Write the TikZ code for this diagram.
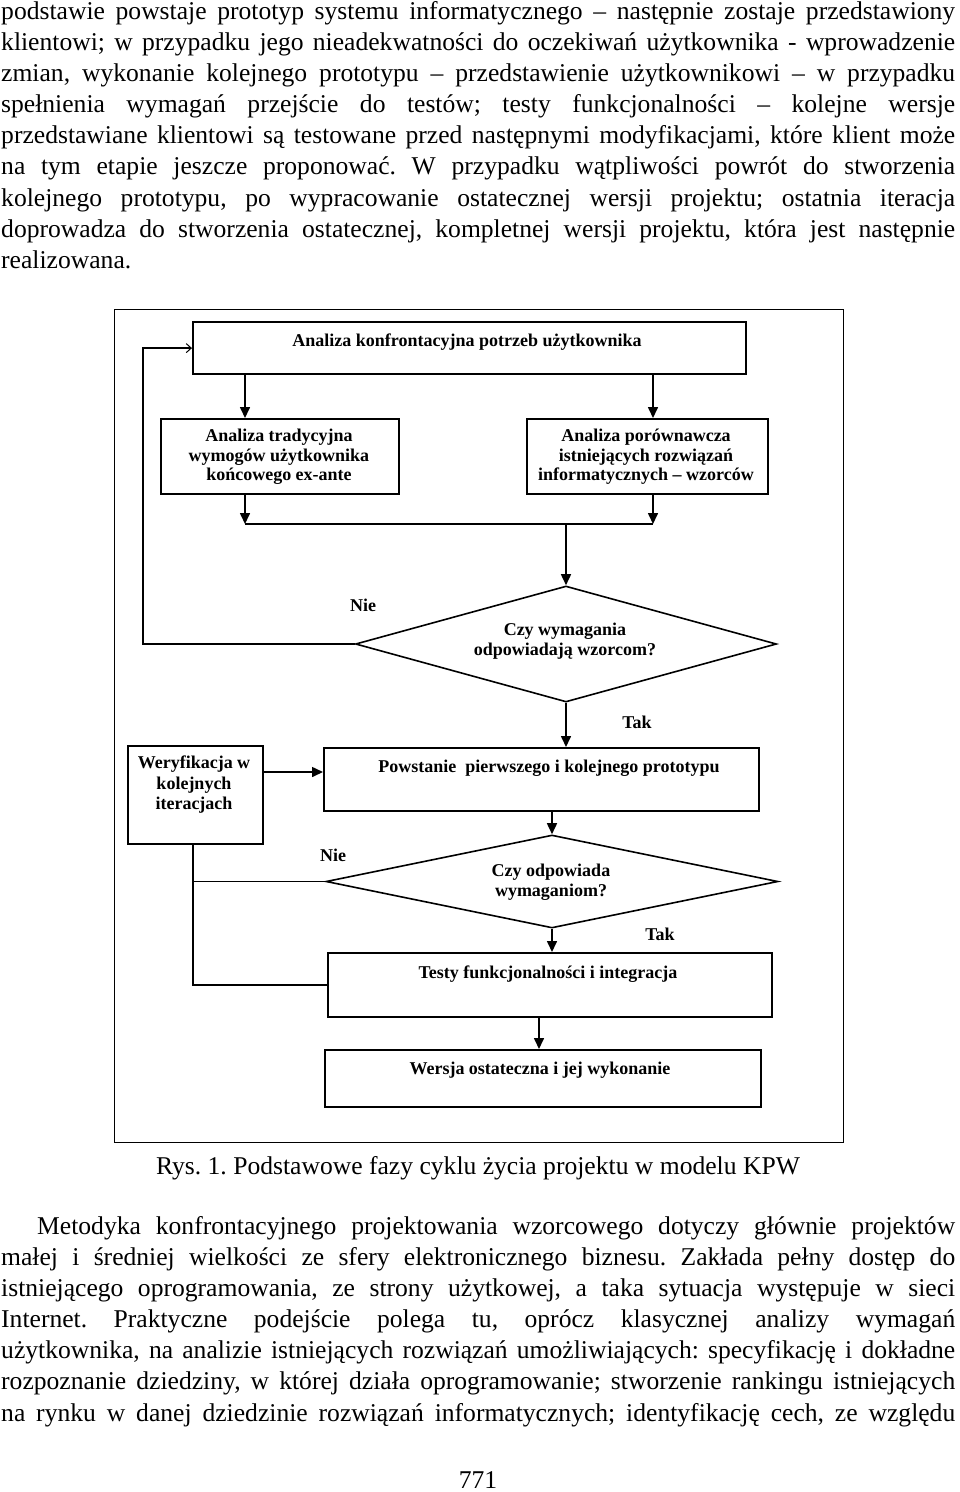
\documentclass[tikz,border=0pt]{standalone}
\usepackage{fontspec}
\setmainfont{Liberation Serif}
\usetikzlibrary{arrows.meta,shapes.geometric}
\frenchspacing
\begin{document}
\begin{tikzpicture}[x=1pt,y=-1pt,
  body/.style={anchor=base west, inner sep=0pt, font=\fontsize{25.6}{31}\selectfont},
  bodyc/.style={anchor=base, inner sep=0pt, font=\fontsize{25.6}{31}\selectfont},
  boxa/.style={draw, line width=2.2pt, inner sep=0pt, anchor=north west},
  boxb/.style={draw, line width=1.8pt, inner sep=0pt, anchor=north west},
  framebox/.style={draw, line width=1.4pt, inner sep=0pt, anchor=north west},
  dtext/.style={font=\fontsize{18}{19.5}\selectfont\bfseries, align=center, inner sep=0pt},
  dia/.style={draw, diamond, line width=1.6pt, inner sep=0pt},
  arr/.style={line width=1.6pt, -{Triangle[length=11pt,width=10pt]}},
  ln/.style={line width=1.6pt},
  thinarr/.style={line width=1.6pt, -{Straight Barb[length=5pt,width=9pt,line width=1pt]}},
]
\useasboundingbox (0,0) rectangle (960,1492);
\fill[white] (0,0) rectangle (960,1492);

% ---- upper paragraph ----
\node[body] (p1) at (1,19) {\makebox[954pt][s]{podstawie powstaje prototyp systemu informatycznego – następnie zostaje przedstawiony}};
\node[body] (p2) at (1,50) {\makebox[954pt][s]{klientowi; w przypadku jego nieadekwatności do oczekiwań użytkownika - wprowadzenie}};
\node[body] (p3) at (1,81) {\makebox[954pt][s]{zmian, wykonanie kolejnego prototypu – przedstawienie użytkownikowi – w przypadku}};
\node[body] (p4) at (1,112) {\makebox[954pt][s]{spełnienia wymagań przejście do testów; testy funkcjonalności – kolejne wersje}};
\node[body] (p5) at (1,143) {\makebox[954pt][s]{przedstawiane klientowi są testowane przed następnymi modyfikacjami, które klient może}};
\node[body] (p6) at (1,174) {\makebox[954pt][s]{na tym etapie jeszcze proponować. W przypadku wątpliwości powrót do stworzenia}};
\node[body] (p7) at (1,206) {\makebox[954pt][s]{kolejnego prototypu, po wypracowanie ostatecznej wersji projektu; ostatnia iteracja}};
\node[body] (p8) at (1,237) {\makebox[954pt][s]{doprowadza do stworzenia ostatecznej, kompletnej wersji projektu, która jest następnie}};
\node[body] (p9) at (1,268) {realizowana.};

% ---- diagram ----
\node[framebox, minimum width=729pt, minimum height=833pt] (frame) at (114,309) {};

\node[boxa, minimum width=553pt, minimum height=52pt] (b1) at (192,321) {};
\node[dtext] (t1) at (467,342) {Analiza konfrontacyjna potrzeb użytkownika};

\node[boxa, minimum width=238pt, minimum height=75pt] (b2) at (160,418) {};
\node[dtext] (t2) at (279,457) {Analiza tradycyjna\\wymogów użytkownika\\końcowego ex-ante};

\node[boxa, minimum width=241pt, minimum height=75pt] (b3) at (526,418) {};
\node[dtext] (t3) at (646,457) {Analiza porównawcza\\istniejących rozwiązań\\informatycznych – wzorców};

\node[dia, minimum width=421pt, minimum height=116pt] (d1) at (566,644) {};
\node[dtext, font=\fontsize{18}{20}\selectfont\bfseries] (td1) at (565,641) {Czy wymagania\\odpowiadają wzorcom?};
\node[dtext] (nie1) at (363,605) {Nie};
\node[dtext] (tak1) at (637,722) {Tak};

\node[boxa, minimum width=435pt, minimum height=63pt] (b4) at (323,747) {};
\node[dtext] (t4) at (549,768) {Powstanie\ \ pierwszego i kolejnego prototypu};

\node[boxb, minimum width=135pt, minimum height=98pt] (b5) at (127,745) {};
\node[dtext, font=\fontsize{18}{20.5}\selectfont\bfseries] (t5) at (194,785) {Weryfikacja w\\kolejnych\\iteracjach};

\node[dia, minimum width=452pt, minimum height=93pt] (d2) at (552,881.5) {};
\node[dtext, font=\fontsize{18}{20}\selectfont\bfseries] (td2) at (551,882) {Czy odpowiada\\wymaganiom?};
\node[dtext] (nie2) at (333,855) {Nie};
\node[dtext] (tak2) at (660,934) {Tak};

\node[boxa, minimum width=444pt, minimum height=64pt] (b6) at (327,952) {};
\node[dtext] (t6) at (548,974) {Testy funkcjonalności i integracja};

\node[boxa, minimum width=436pt, minimum height=57pt] (b7) at (324,1049) {};
\node[dtext] (t7) at (540,1070) {Wersja ostateczna i jej wykonanie};

% connectors
\coordinate (xa) at (245,0);
\coordinate (xb) at (653,0);
\coordinate (ma) at (245,524);
\coordinate (mb) at (653,524);
\coordinate (lp) at (143,0);
\coordinate (ya) at (0,772);
\coordinate (lq) at (193,0);
\coordinate (xc) at (539,0);

\draw[arr] (b1.south -| xa) -- (b2.north -| xa);
\draw[arr] (b1.south -| xb) -- (b3.north -| xb);
\draw[arr] (b2.south -| xa) -- (ma);
\draw[arr] (b3.south -| xb) -- (mb);
\draw[ln] (ma) -- (mb);
\draw[arr] (d1.north |- ma) -- (d1.north);
\draw[thinarr] (d1.west) -- (d1.west -| lp) -- (b1.west -| lp) -- (b1.west);
\draw[arr] (d1.south) -- (b4.north -| d1.south);
\draw[arr] (b5.east |- ya) -- (b4.west |- ya);
\draw[arr] (b4.south -| d2.north) -- (d2.north);
\draw[arr] (d2.south) -- (b6.north -| d2.south);
\draw[ln] (b5.south -| lq) -- (lq |- b6.west) -- (b6.west);
\draw[ln] (d2.west) -- (d2.west -| lq);
\draw[arr] (b6.south -| xc) -- (b7.north -| xc);

% ---- caption ----
\node[bodyc] (cap) at (478,1174) {Rys. 1. Podstawowe fazy cyklu życia projektu w modelu KPW};

% ---- lower paragraph ----
\node[body] (q1) at (37,1234) {\makebox[918pt][s]{Metodyka konfrontacyjnego projektowania wzorcowego dotyczy głównie projektów}};
\node[body] (q2) at (1,1265) {\makebox[954pt][s]{małej i średniej wielkości ze sfery elektronicznego biznesu. Zakłada pełny dostęp do}};
\node[body] (q3) at (1,1296) {\makebox[954pt][s]{istniejącego oprogramowania, ze strony użytkowej, a taka sytuacja występuje w sieci}};
\node[body] (q4) at (1,1327) {\makebox[954pt][s]{Internet. Praktyczne podejście polega tu, oprócz klasycznej analizy wymagań}};
\node[body] (q5) at (1,1358) {\makebox[954pt][s]{użytkownika, na analizie istniejących rozwiązań umożliwiających: specyfikację i dokładne}};
\node[body] (q6) at (1,1389) {\makebox[954pt][s]{rozpoznanie dziedziny, w której działa oprogramowanie; stworzenie rankingu istniejących}};
\node[body] (q7) at (1,1421) {\makebox[954pt][s]{na rynku w danej dziedzinie rozwiązań informatycznych; identyfikację cech, ze względu}};

\node[bodyc] (pn) at (478,1488) {771};
\end{tikzpicture}
\end{document}
